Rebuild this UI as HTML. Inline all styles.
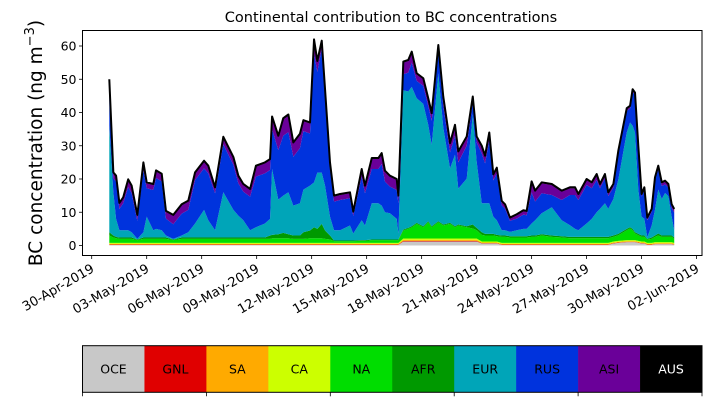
<!DOCTYPE html>
<html><head><meta charset="utf-8"><style>
body{margin:0;background:#fff;}
svg{display:block;font-family:"DejaVu Sans","Liberation Sans",sans-serif;}
</style></head><body>
<svg id="chart" width="711" height="402" viewBox="0 0 711 402" xmlns="http://www.w3.org/2000/svg">
<text x="391" y="22" font-size="14.5" text-anchor="middle">Continental contribution to BC concentrations</text>
<text transform="translate(42,143) rotate(-90)" font-size="18.5" text-anchor="middle">BC concentration (ng m<tspan dy="-8" font-size="13">−3</tspan><tspan dy="8">)</tspan></text>
<g id="areas"></g>
<g id="axes"></g>
<g id="cbar"></g>
</svg>
<script>
const regions = ["OCE","GNL","SA","CA","NA","AFR","EUR","RUS","ASI","AUS"];
const colors = ["#c8c8c8","#e00000","#ffaa00","#ccff00","#00dd00","#009900","#00a5b8","#0033dd","#6a0099","#000000"];
const yTicks = [0,10,20,30,40,50,60];
const xTickLabels = ["30-Apr-2019","03-May-2019","06-May-2019","09-May-2019","12-May-2019","15-May-2019","18-May-2019","21-May-2019","24-May-2019","27-May-2019","30-May-2019","02-Jun-2019"];
const xTickDays = [0,3,6,9,12,15,18,21,24,27,30,33];
// days since 30-Apr-2019 00:00
const days = [0.96,1.18,1.33,1.51,1.72,1.99,2.18,2.49,2.82,3.00,3.36,3.51,3.82,4.05,4.45,4.91,5.27,5.64,6.13,6.36,6.73,7.18,7.73,8.00,8.27,8.64,8.96,9.45,9.73,9.84,10.18,10.45,10.73,11.00,11.36,11.55,11.91,12.13,12.31,12.55,12.73,13.0,13.22,13.55,14.09,14.27,14.73,14.91,15.28,15.64,15.82,16.0,16.27,16.64,16.73,17.0,17.27,17.46,17.73,18.09,18.36,18.55,18.91,19.18,19.55,19.82,20.0,20.46,20.79,21.0,21.28,21.46,21.69,21.91,22.1,22.37,22.55,22.82,23.19,23.55,23.73,24.0,24.19,24.55,25.1,25.64,26.09,26.37,26.55,27.0,27.28,27.55,27.73,28.0,28.18,28.46,28.73,29.19,29.37,29.51,29.64,29.82,30.0,30.15,30.31,30.55,30.73,30.91,31.1,31.28,31.46,31.64,31.78];
const OCE = [.2,.2,.2,.2,.2,.2,.2,.2,.2,.2,.2,.2,.2,.2,.2,.2,.2,.2,.2,.2,.2,.2,.2,.2,.2,.2,.2,.2,.2,.2,.2,.2,.2,.2,.2,.2,.2,.2,.2,.2,.2,.2,.2,.2,.2,.2,.2,.2,.2,.2,.2,.2,.2,.2,.2,1.2,1.2,1.2,1.2,1.2,1.2,1.2,1.2,1.2,1.2,1.2,1.2,1.2,1.2,1.2,.6,.6,.6,.6,.6,.2,.2,.2,.2,.2,.2,.2,.2,.2,.2,.2,.2,.2,.2,.2,.2,.2,.2,.2,.2,.6,.8,1,1,1,1,.8,.6,.6,.2,.2,.4,.4,.4,.4,.4,.4,.2];
const GNL = [.1,.1,.1,.1,.1,.1,.1,.1,.1,.1,.1,.1,.1,.1,.1,.1,.1,.1,.1,.1,.1,.1,.1,.1,.1,.1,.1,.1,.1,.1,.1,.1,.1,.1,.1,.1,.1,.1,.1,.1,.1,.1,.1,.1,.1,.1,.1,.1,.1,.1,.1,.1,.1,.1,.1,.2,.2,.2,.2,.2,.2,.2,.2,.2,.2,.2,.2,.2,.2,.2,.1,.1,.1,.1,.1,.1,.1,.1,.1,.1,.1,.1,.1,.1,.1,.1,.1,.1,.1,.1,.1,.1,.1,.1,.1,.1,.1,.1,.1,.1,.1,.1,.1,.1,.1,.1,.1,.1,.1,.1,.1,.1,.1];
const SA = [.2,.2,.2,.2,.2,.2,.2,.2,.2,.2,.2,.2,.2,.2,.2,.2,.2,.2,.2,.2,.2,.2,.2,.2,.2,.2,.2,.2,.2,.2,.2,.2,.2,.2,.2,.2,.2,.2,.2,.2,.2,.2,.2,.2,.2,.2,.2,.2,.2,.2,.2,.2,.2,.2,.2,.3,.3,.3,.3,.3,.3,.3,.3,.3,.3,.3,.3,.3,.3,.3,.2,.2,.2,.2,.2,.2,.2,.2,.2,.2,.2,.2,.2,.2,.2,.2,.2,.2,.2,.2,.2,.2,.2,.2,.2,.2,.2,.2,.2,.2,.2,.2,.2,.2,.2,.2,.2,.2,.2,.2,.2,.2,.2];
const CA = [.3,.3,.3,.3,.3,.3,.3,.3,.3,.3,.3,.3,.3,.3,.3,.3,.3,.3,.3,.3,.3,.3,.3,.3,.3,.3,.3,.3,.3,.3,.3,.3,.3,.3,.3,.3,.3,.3,.3,.3,.3,.3,.3,.3,.3,.3,.3,.3,.3,.3,.3,.3,.3,.3,.3,.4,.4,.4,.4,.4,.4,.4,.4,.4,.4,.4,.4,.4,.4,.4,.3,.3,.3,.3,.3,.3,.3,.3,.3,.3,.3,.3,.3,.3,.3,.3,.3,.3,.3,.3,.3,.3,.3,.3,.3,.3,.3,.3,.3,.3,.3,.3,.3,.3,.3,.3,.3,.3,.3,.3,.3,.3,.3];
const NA = [2.2,1.6,1.4,1.2,1.2,1.2,1.2,.8,1.2,1.2,1.2,1.2,1.2,1.2,.8,1.2,1.2,1.2,1.2,1.2,1.2,1.2,1.2,1.2,1.2,1.2,1.2,1.2,1.2,1.4,1.4,1.4,1.4,1.2,1.2,1.2,1.4,1.4,1.4,1.4,1.2,1.0,.5,.5,.5,.5,.6,.6,.8,.8,.8,.8,.8,.8,.8,2.4,2.9,3.4,4.4,3.4,4.9,3.4,4.9,3.9,4.4,3.4,3.9,3.4,3.0,2.5,2.0,1.8,1.8,1.8,1.6,1.8,1.8,1.6,1.6,1.6,1.6,1.8,1.8,2.2,1.8,1.6,1.4,1.4,1.4,1.4,1.4,1.4,1.4,1.4,1.4,1.4,1.7,3.0,3.5,3.0,2.0,1.7,1.4,1.4,1.0,1.2,1.6,2.0,1.6,1.6,1.6,1.6,1.2];
const AFR = [1.0,.6,.4,.4,.4,.4,.4,.2,.4,.4,.4,.4,.4,.4,.2,.4,.4,.4,.4,.4,.4,.4,.4,.4,.4,.4,.4,.4,1.0,1.0,1.2,1.6,1.2,1.0,1.0,2.0,2.3,3.3,2.8,4.3,2.5,1.2,.2,.2,.2,.2,.2,.2,.2,.2,.2,.2,.2,.2,.2,.3,.3,.3,.3,.3,.3,.3,.3,.3,.3,.3,.3,.3,1.2,.7,.8,.5,.5,.5,.4,.4,.4,.4,.4,.4,.4,.4,.4,.4,.4,.4,.4,.4,.4,.4,.4,.4,.4,.4,.4,.4,.4,.4,.4,.4,.4,.4,.4,.4,.2,.4,.4,.6,.4,.4,.4,.4,.4];
const EUR = [32,13,5.4,2.2,2.2,2.2,1.6,.2,1.6,6.3,2.2,2.6,2.2,.6,.2,.6,1.6,4.2,8.3,5.2,2.2,13.6,8.3,6.6,5.2,2.2,3.1,4.2,5,19.8,10.4,11.2,12.6,9,9.7,12.8,13.5,13.5,16.9,15.4,13.5,5.7,3.1,3.1,4.5,2.1,6,4.4,10.9,10.9,10.2,8.2,7.9,6.2,1.8,41.9,41,41.9,37.5,36.8,29,24.5,44.5,29.2,16.4,21.5,10.8,14.3,33.2,20,8.7,9.2,9.2,5.2,4.4,1.6,1.6,1.3,1.8,2.2,2.2,3.6,4.6,6.3,8.5,4.8,3.5,2.4,2,4,5.4,7.4,8.4,10.1,8.4,11,16.3,29,31.5,31,30,13.3,5.7,5,.5,3.6,7.7,13.2,11,12.8,11.8,5.7,2.2];
const RUS = [11.7,4.2,11.2,6.4,8.1,13,11.7,5.4,18.7,8.5,12.1,15.3,14.7,5.1,4.4,6.6,6.7,13.1,12.5,14.1,11.1,14.4,13.6,9.7,8.6,10.1,15.2,15.1,14.7,12,14.9,18,18.1,14.7,16.6,17.6,15.7,38.7,30.3,37.4,26.7,14.5,8.6,9.1,8.2,5.3,13.1,9.7,10.3,10.3,12.5,9.2,8,8.7,9.1,4.8,5.7,7.3,5.2,5.4,5.7,7.2,6.2,6.5,4.8,5.7,7.9,9.9,3.5,5.7,15,12,19,10.9,14,7.5,6.5,3.3,3.5,4.3,4.1,9.4,5.6,6,3.7,6.1,9.1,10.2,9.1,11.6,9.2,9.7,6.2,7.5,3.9,3.4,7.6,6.5,4.2,10.2,11.2,12.4,6,8.7,5.1,4.2,9,6.1,3.9,2.6,2.6,2.6,5.3];
const ASI = [2,1.5,1.5,1.5,1.5,2,2,1.5,2,1.5,1.5,2,2,2,2.5,2.5,2.5,2,2,2,1.5,2,2,2,2,2,3,3,3,3.5,4,5,5,4,4,3,3,4,3,2,2,1.5,1.5,1.5,1.5,1,2,2,3,3,3,3,3,3,2,3.5,3.5,3,2,2,2,2,2,2.5,2.5,3,3,2.5,1.5,1.5,2,2,2,1.5,1.5,1,1,.7,1,1,1,3,3,3,3,2.5,2,2,1.5,1.5,1.5,1.5,1,1,.8,.8,.8,.5,.5,.5,.5,.5,.5,.5,.5,.5,.5,.8,.8,.8,.8,.8,.8];
const AUS = [.3,.3,.3,.3,.3,.3,.3,.3,.3,.3,.3,.3,.3,.3,.3,.3,.3,.3,.3,.3,.3,.3,.3,.3,.3,.3,.3,.3,.3,.3,.3,.3,.3,.3,.3,.3,.3,.3,.3,.3,.3,.3,.3,.3,.3,.3,.3,.3,.3,.3,.3,.3,.3,.3,.3,.3,.3,.3,.3,.3,.3,.3,.3,.3,.3,.3,.3,.3,.3,.3,.3,.3,.3,.3,.3,.3,.3,.3,.3,.3,.3,.3,.3,.3,.3,.3,.3,.3,.3,.3,.3,.3,.3,.3,.3,.3,.3,.3,.3,.3,.3,.3,.3,.3,.3,.3,.3,.3,.3,.3,.3,.3,.3];

const NS = "http://www.w3.org/2000/svg";
const L = 82.5, R = 702, T = 30.5, B = 255.5;
function xs(d){ return 91.7 + d * 18.33; }
function ys(v){ return 245.5 - v * 3.325; }
function mk(tag, attrs, parent){
  const e = document.createElementNS(NS, tag);
  for (const k in attrs) e.setAttribute(k, attrs[k]);
  parent.appendChild(e); return e;
}
const series = [OCE,GNL,SA,CA,NA,AFR,EUR,RUS,ASI,AUS];
const areas = document.getElementById('areas');
let base = days.map(() => 0);
series.forEach((s, i) => {
  const top = base.map((b, j) => b + s[j]);
  let d = "M" + days.map((t, j) => xs(t).toFixed(2) + "," + ys(top[j]).toFixed(2)).join("L");
  for (let j = days.length - 1; j >= 0; j--) d += "L" + xs(days[j]).toFixed(2) + "," + ys(base[j]).toFixed(2);
  const p = mk('path', {d: d + "Z", fill: colors[i], stroke: 'none'}, areas);
  
  
  base = top;
});
const tl = mk('path', {d: "M" + days.map((t, j) => xs(t).toFixed(2) + "," + ys(base[j]).toFixed(2)).join("L"), fill: 'none', stroke: '#000', 'stroke-width': 2, 'stroke-linejoin': 'round'}, areas);



const axes = document.getElementById('axes');
const fr = mk('rect', {x: L, y: T, width: R - L, height: B - T, fill: 'none', stroke: '#000', 'stroke-width': 1}, axes);


yTicks.forEach(v => {
  const y = ys(v);
  mk('line', {x1: L - 3.5, x2: L, y1: y, y2: y, stroke: '#000', 'stroke-width': 0.8}, axes);
  const t = mk('text', {x: L - 6, y: y + 4.5, 'font-size': 12.5, 'text-anchor': 'end'}, axes);
  t.textContent = v;
  
  
});
xTickDays.forEach((d, i) => {
  const x = xs(d);
  mk('line', {x1: x, x2: x, y1: B, y2: B + 3.5, stroke: '#000', 'stroke-width': 0.8}, axes);
  const t = mk('text', {transform: 'translate(' + (x - 1) + ',' + (B + 8) + ') rotate(-30)', 'font-size': 13, 'text-anchor': 'end', 'dominant-baseline': 'hanging'}, axes);
  t.textContent = xTickLabels[i];
  
  
});

const cbar = document.getElementById('cbar');
const cT = 345.7, cB = 392.3, w = (R - L) / regions.length;
regions.forEach((r, i) => {
  const g = mk('g', {}, cbar);
  
  
  mk('rect', {x: L + i * w, y: cT, width: w + 0.3, height: cB - cT, fill: colors[i]}, g);
  const t = mk('text', {x: L + i * w + w / 2, y: (cT + cB) / 2 + 4.5, 'font-size': 12.5, 'text-anchor': 'middle', fill: r === 'AUS' ? '#fff' : '#000'}, g);
  t.textContent = r;
});
mk('rect', {x: L, y: cT, width: R - L, height: cB - cT, fill: 'none', stroke: '#000', 'stroke-width': 1}, cbar);
for (let i = 0; i <= regions.length; i += 2) {
  const x = L + i * w;
  mk('line', {x1: x, x2: x, y1: cB, y2: cB + 4, stroke: '#000', 'stroke-width': 0.8}, cbar);
}
</script>
</body></html>
